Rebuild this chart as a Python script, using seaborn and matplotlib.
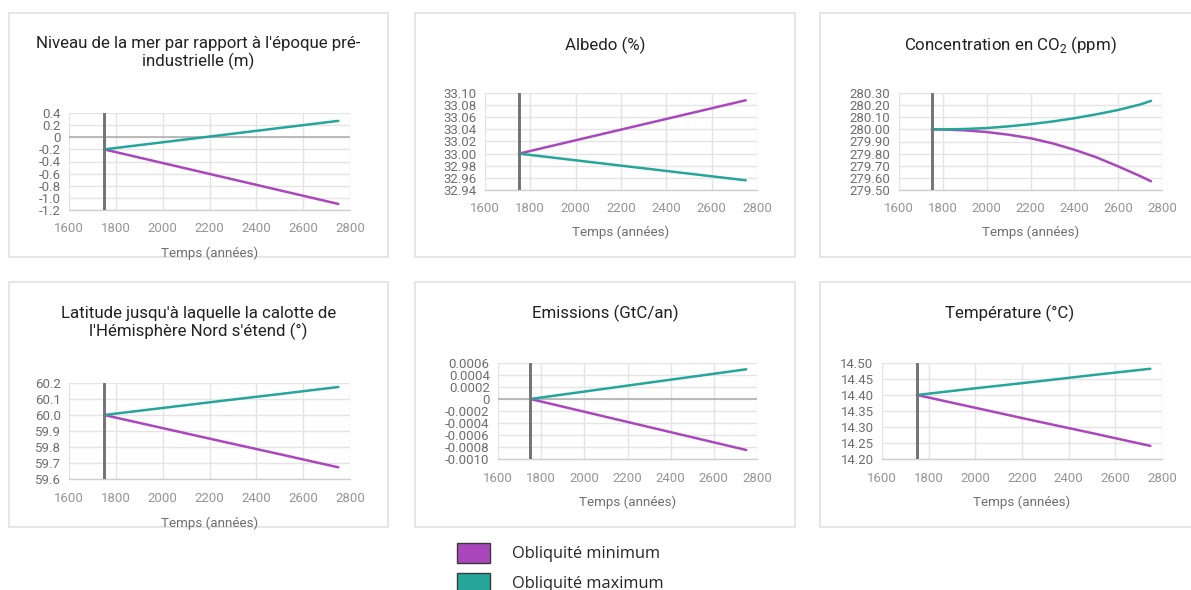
import matplotlib
matplotlib.use("Agg")
import matplotlib.pyplot as plt
from matplotlib.patches import Rectangle, Patch
from matplotlib.ticker import FixedLocator, FixedFormatter
import pandas as pd
import seaborn as sns

# ---------------------------------------------------------------- data
SCENARIOS = ["Obliquité minimum", "Obliquité maximum"]
COLORS = {"Obliquité minimum": "#AB47BC", "Obliquité maximum": "#26A69A"}
START_YEAR = 1750

years_lin = [1750, 2000, 2250, 2500, 2750]
years_co2 = [1750, 1800, 1900, 2000, 2100, 2200, 2300, 2400, 2500, 2600, 2700, 2750]

sea_min = [-0.20, -0.425, -0.65, -0.875, -1.10]
sea_max = [-0.20, -0.083, 0.035, 0.153, 0.27]

albedo_min = [33.000, 33.022, 33.044, 33.066, 33.088]
albedo_max = [33.000, 32.989, 32.978, 32.967, 32.956]

co2_min = [280.000, 279.999, 279.992, 279.978, 279.956, 279.927,
           279.885, 279.832, 279.770, 279.695, 279.615, 279.572]
co2_max = [280.000, 280.000, 280.003, 280.011, 280.025, 280.043,
           280.065, 280.092, 280.124, 280.160, 280.205, 280.235]

lat_min = [60.000, 59.918, 59.836, 59.755, 59.673]
lat_max = [60.000, 60.044, 60.088, 60.131, 60.175]

emis_min = [0.0, -0.0002125, -0.000425, -0.0006375, -0.00085]
emis_max = [0.0, 0.000124, 0.000248, 0.000371, 0.000495]

temp_min = [14.400, 14.360, 14.320, 14.281, 14.241]
temp_max = [14.400, 14.421, 14.441, 14.462, 14.482]

x_ticks = [1600, 1800, 2000, 2200, 2400, 2600, 2800]
x_labels = ["1600", "1800", "2000", "2200", "2400", "2600", "2800"]

sea_ticks = [0.4, 0.2, 0.0, -0.2, -0.4, -0.6, -0.8, -1.0, -1.2]
sea_labels = ["0.4", "0.2", "0", "-0.2", "-0.4", "-0.6", "-0.8", "-1.0", "-1.2"]
albedo_ticks = [33.10, 33.08, 33.06, 33.04, 33.02, 33.00, 32.98, 32.96, 32.94]
albedo_labels = ["33.10", "33.08", "33.06", "33.04", "33.02", "33.00", "32.98", "32.96", "32.94"]
co2_ticks = [280.3, 280.2, 280.1, 280.0, 279.9, 279.8, 279.7, 279.6, 279.5]
co2_labels = ["280.30", "280.20", "280.10", "280.00", "279.90", "279.80", "279.70", "279.60", "279.50"]
lat_ticks = [60.2, 60.1, 60.0, 59.9, 59.8, 59.7, 59.6]
lat_labels = ["60.2", "60.1", "60.0", "59.9", "59.8", "59.7", "59.6"]
emis_ticks = [0.0006, 0.0004, 0.0002, 0.0, -0.0002, -0.0004, -0.0006, -0.0008, -0.0010]
emis_labels = ["0.0006", "0.0004", "0.0002", "0", "-0.0002", "-0.0004", "-0.0006", "-0.0008", "-0.0010"]
temp_ticks = [14.50, 14.45, 14.40, 14.35, 14.30, 14.25, 14.20]
temp_labels = ["14.50", "14.45", "14.40", "14.35", "14.30", "14.25", "14.20"]

X_LABEL = "Temps (années)"

# ---------------------------------------------------------------- style
sns.set_theme(style="white")
plt.rcParams["font.family"] = ["Roboto", "DejaVu Sans"]
plt.rcParams["mathtext.fontset"] = "custom"
plt.rcParams["mathtext.rm"] = "Roboto"

W, H = 1191, 590
fig = plt.figure(figsize=(W / 100, H / 100), dpi=100)
fig.patch.set_facecolor("white")


def fx(px):
    return px / W


def fy(py):
    return 1 - py / H


def make_frame(data_years, vmin, vmax):
    rows = []
    for name, vals in ((SCENARIOS[0], vmin), (SCENARIOS[1], vmax)):
        for yr, v in zip(data_years, vals):
            rows.append({"year": yr, "value": v, "scenario": name})
    return pd.DataFrame(rows)


panels = [
    dict(title="Niveau de la mer par rapport à l'époque pré-\nindustrielle (m)",
         card=(9, 13, 388, 257), box=(69, 113, 350, 210), title_y=53, xlabel_y=253,
         years=years_lin, vmin=sea_min, vmax=sea_max,
         yt=sea_ticks, yl=sea_labels, zero=True),
    dict(title="Albedo (%)",
         card=(415, 13, 795, 257), box=(485, 93, 757, 190), title_y=45, xlabel_y=232,
         years=years_lin, vmin=albedo_min, vmax=albedo_max,
         yt=albedo_ticks, yl=albedo_labels, zero=False),
    dict(title=r"Concentration en CO$_{\mathrm{2}}$ (ppm)",
         card=(820, 13, 1210, 257), box=(899, 93, 1162, 190), title_y=45, xlabel_y=232,
         years=years_co2, vmin=co2_min, vmax=co2_max,
         yt=co2_ticks, yl=co2_labels, zero=False),
    dict(title="Latitude jusqu'à laquelle la calotte de\nl'Hémisphère Nord s'étend (°)",
         card=(9, 282, 388, 527), box=(69, 383, 350, 479), title_y=323, xlabel_y=523,
         years=years_lin, vmin=lat_min, vmax=lat_max,
         yt=lat_ticks, yl=lat_labels, zero=False),
    dict(title="Emissions (GtC/an)",
         card=(415, 282, 795, 527), box=(498, 363, 757, 459), title_y=313, xlabel_y=502,
         years=years_lin, vmin=emis_min, vmax=emis_max,
         yt=emis_ticks, yl=emis_labels, zero=True),
    dict(title="Température (°C)",
         card=(820, 282, 1210, 527), box=(882, 363, 1162, 459), title_y=313, xlabel_y=502,
         years=years_lin, vmin=temp_min, vmax=temp_max,
         yt=temp_ticks, yl=temp_labels, zero=False),
]

for p in panels:
    cx0, cy0, cx1, cy1 = p["card"]
    fig.patches.append(Rectangle((fx(cx0), fy(cy1)), fx(cx1 - cx0), (cy1 - cy0) / H,
                                 transform=fig.transFigure, facecolor="white",
                                 edgecolor="#e2e2e2", linewidth=1.2, zorder=-5))

    x0, y0, x1, y1 = p["box"]
    ax = fig.add_axes([fx(x0), fy(y1), fx(x1 - x0), (y1 - y0) / H])
    ax.set_facecolor("none")

    df = make_frame(p["years"], p["vmin"], p["vmax"])
    sns.lineplot(data=df, x="year", y="value", hue="scenario", palette=COLORS,
                 hue_order=SCENARIOS, linewidth=1.8, legend=False, ax=ax, zorder=3)

    ax.axvline(START_YEAR, color="#737373", linewidth=2.1, zorder=4)

    ax.set_xlim(x_ticks[0], x_ticks[-1])
    ax.set_ylim(min(p["yt"]), max(p["yt"]))
    ax.xaxis.set_major_locator(FixedLocator(x_ticks))
    ax.xaxis.set_major_formatter(FixedFormatter(x_labels))
    ax.yaxis.set_major_locator(FixedLocator(p["yt"]))
    ax.yaxis.set_major_formatter(FixedFormatter(p["yl"]))

    ax.grid(True, color="#e4e4e4", linewidth=1.0, zorder=0)
    ax.set_axisbelow(True)
    if p["zero"]:
        ax.axhline(0, color="#b0b0b0", linewidth=1.2, zorder=1)

    for side in ("top", "left", "right"):
        ax.spines[side].set_visible(False)
    ax.spines["bottom"].set_color("#cfcfcf")
    ax.spines["bottom"].set_linewidth(1.0)

    ax.tick_params(axis="x", length=0, pad=9, labelsize=9.5, labelcolor="#959595")
    ax.tick_params(axis="y", length=0, pad=6, labelsize=9.5, labelcolor="#6e6e6e")

    ax.set_xlabel(X_LABEL, fontsize=9.6, color="#6e6e6e", va="center")
    ax.xaxis.set_label_coords(0.5, -(p["xlabel_y"] - y1) / (y1 - y0))
    ax.set_ylabel("")

    fig.text(fx((cx0 + min(cx1, 1200)) / 2), fy(p["title_y"]), p["title"],
             ha="center", va="center", fontsize=12.2, color="#222222",
             linespacing=1.2)

# shared legend below the panels
handles = [Patch(facecolor=COLORS[s], edgecolor="#3a3a3a", linewidth=1.0, label=s)
           for s in SCENARIOS]
fig.legend(handles=handles, loc="upper left", bbox_to_anchor=(fx(457), fy(543)),
           frameon=False, borderpad=0, borderaxespad=0,
           handlelength=2.0, handleheight=1.5, handletextpad=1.35,
           labelspacing=0.6, prop={"family": "Open Sans", "size": 11.8})

fig.savefig("out.png", dpi=100, facecolor="white")
